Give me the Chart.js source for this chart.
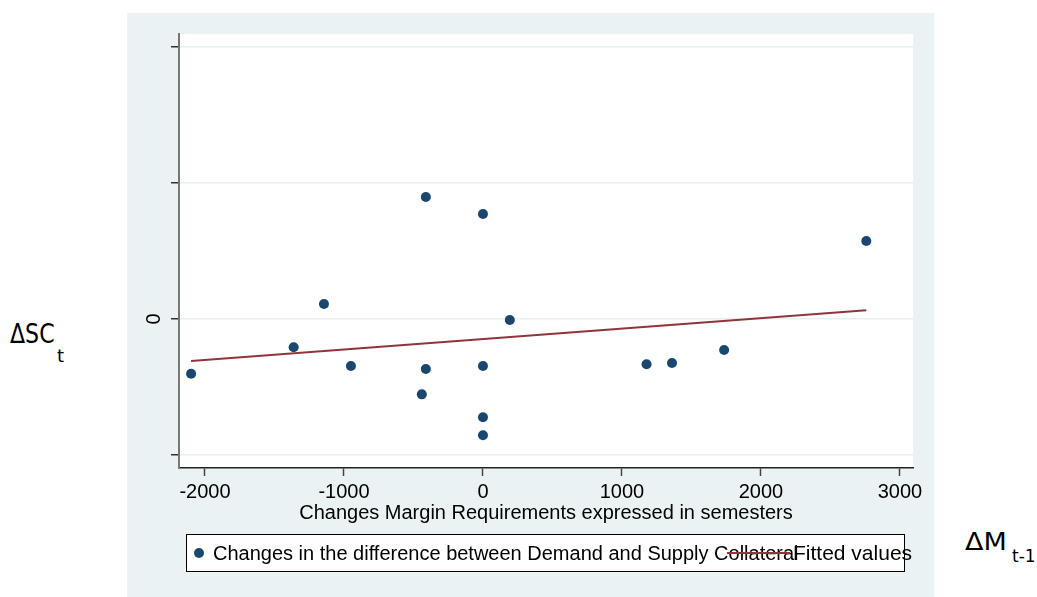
<!DOCTYPE html>
<html>
<head>
<meta charset="utf-8">
<script src="https://cdn.jsdelivr.net/npm/chart.js@4.4.1/dist/chart.umd.min.js"></script>
<style>
  body { margin: 0; width: 1037px; height: 597px; overflow: hidden; position: relative; background: #fff; font-family: "Liberation Sans", Arial, sans-serif; }
  #wrap { position: absolute; left: 127px; top: 13px; width: 807px; height: 584px; background: #eaf2f3; }
  .lbl { position: absolute; font-family: "DejaVu Sans", sans-serif; line-height: 1; color: #000; white-space: nowrap; transform-origin: left center; }
  #legend { position: absolute; left: 186px; top: 534px; width: 719px; height: 38px; box-sizing: border-box; border: 1px solid #000; background: #fff; }
  .leg { position: absolute; font-size: 20px; line-height: 20px; color: #000; white-space: nowrap; }
  #dot { position: absolute; left: 194px; top: 548px; width: 10px; height: 10px; border-radius: 50%; background: #1a476f; }
  #key { position: absolute; left: 727px; top: 552px; width: 63px; height: 2px; background: #90353b; }
</style>
</head>
<body>
<div id="wrap"><canvas id="scatterChart"></canvas></div>

<div class="lbl" style="left:10px; top:321px; font-size:26px; transform:scaleX(0.85);">ΔSC</div>
<div class="lbl" style="left:57px; top:347px; font-size:18px;">t</div>
<div class="lbl" style="left:965px; top:529px; font-size:25px; transform:scaleX(1.08);">ΔM</div>
<div class="lbl" style="left:1012px; top:548px; font-size:17px;">t-1</div>

<div id="legend"></div>
<div id="dot"></div>
<div class="leg" style="left:213px; top:543px;">Changes in the difference between Demand and Supply Collateral</div>
<div class="leg" style="left:793px; top:543px; font-size:21px;">Fitted values</div>
<div id="key"></div>

<script>
// scatter values (y in gridline units)
const marginX = [-2100, -1362, -1144, -950, -411, -411, -440, 0, 0, 0, 0, 193, 1177, 1360, 1735, 2758];
const collatY = [-0.402, -0.208, 0.110, -0.346, 0.897, -0.368, -0.554, 0.772, -0.346, -0.723, -0.855, -0.007, -0.333, -0.324, -0.228, 0.574];

// fitted line endpoints
const fitX = [-2100, 2758];
const fitY = [-0.309, 0.064];

const xTicks = [-2000, -1000, 0, 1000, 2000, 3000];
const yTicks = [-1, 0, 1, 2];
const yLabels = ['', '0', '', ''];

const navy = '#1a476f';
const maroon = '#90353b';

// white plot region
const plotBg = {
    id: 'plotBg',
    beforeDraw(chart) {
        const { ctx, chartArea: a } = chart;
        ctx.save();
        ctx.fillStyle = '#fff';
        ctx.fillRect(a.left, a.top, a.right - a.left, a.bottom - a.top);
        ctx.restore();
    }
};

function createScatterChart() {
    const ctx = document.getElementById('scatterChart').getContext('2d');

    const data = {
        datasets: [
            {
                type: 'line',
                label: 'Fitted values',
                data: fitX.map((x, i) => ({ x: x, y: fitY[i] })),
                borderColor: maroon,
                borderWidth: 2,
                pointRadius: 0,
                fill: false,
                order: 0
            },
            {
                type: 'scatter',
                label: 'Changes in the difference between Demand and Supply Collateral',
                data: marginX.map((x, i) => ({ x: x, y: collatY[i] })),
                backgroundColor: navy,
                borderWidth: 0,
                pointRadius: 5,
                order: 1
            }
        ]
    };

    new Chart(ctx, {
        type: 'scatter',
        data: data,
        plugins: [plotBg],
        options: {
            responsive: true,
            maintainAspectRatio: false,
            animation: false,
            layout: { padding: { top: 21, right: 21, left: 0, bottom: 0 } },
            scales: {
                x: {
                    type: 'linear',
                    min: -2187,
                    max: 3094,
                    afterBuildTicks: (s) => { s.ticks = xTicks.map(v => ({ value: v })); },
                    afterFit: (s) => { s.height = 129; s.paddingLeft = 0; s.paddingRight = 0; },
                    border: { display: true, color: '#222', width: 1.5 },
                    grid: { display: true, drawOnChartArea: false, drawTicks: true, tickLength: 8, tickColor: '#444', tickWidth: 1.5 },
                    ticks: {
                        color: '#000',
                        padding: 4,
                        maxRotation: 0,
                        font: { size: 20, family: "'Liberation Sans', Arial, sans-serif" },
                        callback: (v) => String(v)
                    },
                    title: {
                        display: true,
                        text: 'Changes Margin Requirements expressed in semesters',
                        color: '#000',
                        padding: { top: 0, bottom: 72 },
                        font: { size: 20, family: "'Liberation Sans', Arial, sans-serif" }
                    }
                },
                y: {
                    type: 'linear',
                    min: -1.0956,
                    max: 2.0956,
                    afterBuildTicks: (s) => { s.ticks = yTicks.map(v => ({ value: v })); },
                    afterFit: (s) => { s.width = 52; s.paddingTop = 0; s.paddingBottom = 0; },
                    border: { display: true, color: '#777', width: 2 },
                    grid: { color: '#e8eff1', lineWidth: 1.5, drawTicks: true, tickLength: 8, tickColor: '#333', tickWidth: 1.5 },
                    ticks: {
                        color: '#000',
                        padding: 11,
                        minRotation: 90,
                        maxRotation: 90,
                        crossAlign: 'center',
                        font: { size: 20, family: "'Liberation Sans', Arial, sans-serif" },
                        callback: (v) => yLabels[yTicks.indexOf(v)] ?? ''
                    }
                }
            },
            plugins: {
                legend: { display: false },
                tooltip: { enabled: false },
                title: { display: false }
            }
        }
    });
}

createScatterChart();
</script>
</body>
</html>
